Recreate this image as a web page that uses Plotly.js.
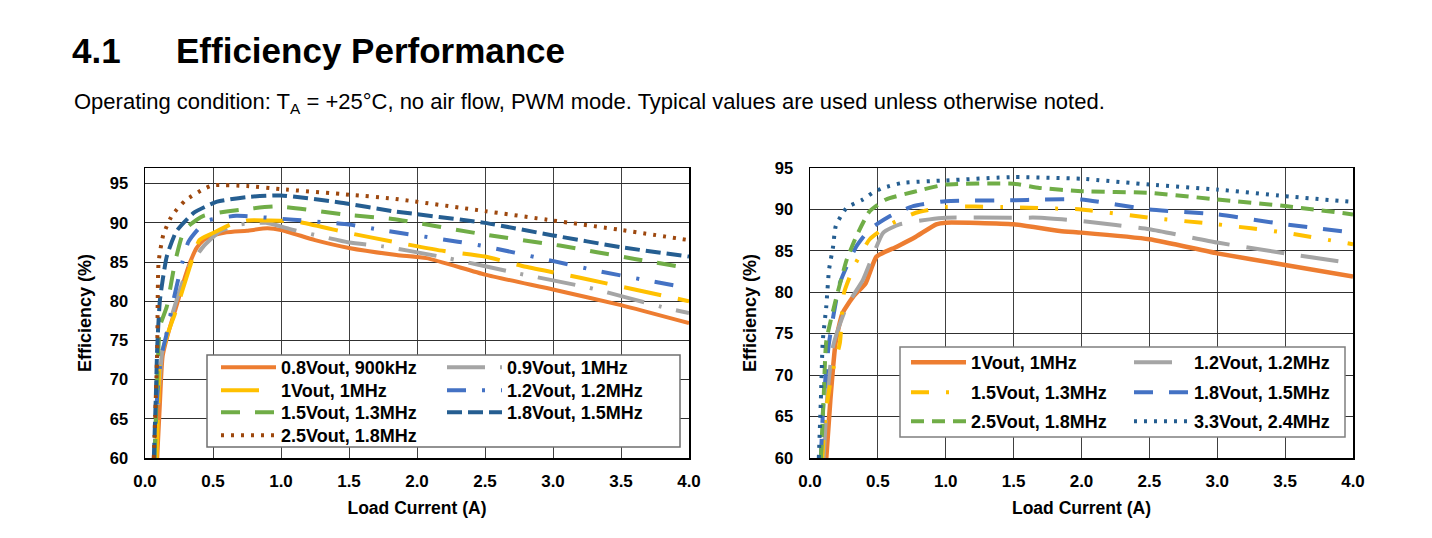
<!DOCTYPE html>
<html>
<head>
<meta charset="utf-8">
<script src="https://cdn.plot.ly/plotly-3.0.1.min.js"></script>
<style>html,body{margin:0;padding:0;background:#fff;}#chart{width:1432px;height:538px;}</style>
</head>
<body>
<div id="chart"></div>
<script>
// ---------- Left chart data ----------
const L_names = ['0.8Vout, 900kHz','0.9Vout, 1MHz','1Vout, 1MHz','1.2Vout, 1.2MHz','1.5Vout, 1.3MHz','1.8Vout, 1.5MHz','2.5Vout, 1.8MHz'];
const L_x_08 = [0.09,0.11,0.13,0.18,0.23,0.28,0.33,0.38,0.43,0.5,0.6,0.75,0.9,1.0,1.25,1.5,1.85,2.07,2.5,3.0,3.5,4.0];
const L_y_08 = [60,67,73,76.5,79.3,82.3,84.9,86.8,87.8,88.4,88.8,89.0,89.3,89.1,87.8,86.8,85.9,85.5,83.4,81.5,79.5,77.2];
const L_x_09 = [0.08,0.1,0.13,0.21,0.31,0.43,0.55,0.7,0.89,1.09,1.5,1.75,2.17,2.73,3.27,3.84,4.0];
const L_y_09 = [60,68,74,78.9,84,87,88.9,89.8,90,89.1,87.5,87,85.7,83.6,81.7,79.1,78.5];
const L_x_10 = [0.085,0.1,0.11,0.17,0.23,0.33,0.4,0.5,0.63,0.75,0.9,1.1,1.5,1.82,2.2,2.5,2.8,3.2,3.6,4.0];
const L_y_10 = [60,68,72.5,76,78.9,84.4,87.8,88.7,89.8,90.3,90.3,90.2,88.7,87.6,86.4,85.7,84.4,83,81.5,80];
const L_x_12 = [0.07,0.09,0.12,0.16,0.21,0.32,0.45,0.67,0.87,1.09,1.5,1.73,2.3,2.5,2.93,3.35,3.74,4.0];
const L_y_12 = [60,68,73,75.9,80.2,87.6,90.2,90.9,90.7,90.4,89.8,89.1,87.6,87,85.4,83.8,82.5,81.7];
const L_x_15 = [0.07,0.09,0.11,0.16,0.22,0.29,0.43,0.71,0.97,1.5,1.82,2.5,3.05,3.6,4.0];
const L_y_15 = [60,70,76.8,79.3,84.9,89.1,90.9,91.7,92.1,91,90.5,88.5,87.1,85.4,84.2];
const L_x_18 = [0.065,0.08,0.09,0.11,0.16,0.23,0.36,0.53,0.75,1.0,1.43,1.82,2.5,3.0,3.5,4.0];
const L_y_18 = [60,68,74.2,80.2,85.7,88.9,91.3,92.7,93.3,93.5,92.6,91.5,90,88.4,86.9,85.7];
const L_x_25 = [0.065,0.08,0.09,0.1,0.135,0.2,0.3,0.43,0.5,0.75,1.0,1.5,1.82,2.5,3.0,3.5,4.0];
const L_y_25 = [60,68,74,85,88.5,91,92.9,94.3,94.8,94.7,94.3,93.6,93.1,91.5,90.3,89.1,87.8];

// ---------- Right chart data ----------
const R_names = ['1Vout, 1MHz','1.2Vout, 1.2MHz','1.5Vout, 1.3MHz','1.8Vout, 1.5MHz','2.5Vout, 1.8MHz','3.3Vout, 2.4MHz'];
const R_x_10 = [0.12,0.15,0.19,0.24,0.32,0.41,0.49,0.64,0.78,0.93,1.0,1.5,1.84,2.0,2.5,3.0,3.5,4.0];
const R_y_10 = [60,67,74.1,77.5,79.5,81.1,84.3,85.5,86.7,88.2,88.4,88.2,87.4,87.2,86.4,84.7,83.3,81.9];
const R_x_12 = [0.1,0.13,0.17,0.27,0.39,0.46,0.54,0.66,0.88,1.0,1.5,1.7,2.0,2.5,3.0,3.5,4.0];
const R_y_12 = [60,68,73.5,78.3,81.5,84.3,87.2,88.2,88.8,89,89,89,88.6,87.6,86,84.7,83.5];
const R_x_15 = [0.09,0.12,0.16,0.22,0.25,0.33,0.44,0.59,0.78,1.0,1.42,1.81,2.0,2.5,3.0,3.5,4.0];
const R_y_15 = [60,66,70,73.9,79.9,83.3,86.4,88.2,89.6,90.3,90.3,90.1,90,89,88.2,87.2,85.8];
const R_x_18 = [0.08,0.1,0.14,0.22,0.34,0.44,0.59,0.76,1.0,1.5,1.71,2.0,2.5,3.0,3.5,4.0];
const R_y_18 = [60,67,73.9,81.1,85.5,87.6,89.2,90.4,91,91.1,91.2,91.2,90,89.4,88.2,87.2];
const R_x_25 = [0.08,0.1,0.12,0.19,0.27,0.34,0.44,0.56,0.76,1.0,1.5,1.69,2.0,2.5,3.0,3.5,4.0];
const R_y_25 = [60,67,74.1,79.1,83.9,86.7,89.8,91.2,92.1,93,93.1,92.6,92.2,92,91.2,90.4,89.4];
const R_x_33 = [0.065,0.08,0.094,0.12,0.14,0.17,0.19,0.27,0.39,0.46,0.54,0.68,1.0,1.5,2.0,2.5,3.0,3.5,4.0];
const R_y_33 = [60,67,74.1,78.3,82.7,85.5,88,90.2,91.2,92,92.6,93.2,93.5,93.9,93.7,93,92.4,91.6,90.9];

const xTicks = [0,0.5,1,1.5,2,2.5,3,3.5,4];
const xTickText = ['0.0','0.5','1.0','1.5','2.0','2.5','3.0','3.5','4.0'];
const yTicks = [60,65,70,75,80,85,90,95];

// ---------- styles ----------
const ORANGE='#ED7D31', YELLOW='#FFC000', GRAY='#A5A5A5', BLUE='#4472C4', GREEN='#70AD47', DBLUE='#255E91', BROWN='#9E480E';
const FONT = 'Liberation Sans, Arial, sans-serif';

function tr(x,y,name,color,dash,w,xa,ya,leg){
  return {x:x,y:y,name:name,type:'scatter',mode:'lines',xaxis:xa,yaxis:ya,legend:leg,
    line:{color:color,width:w,dash:dash,shape:'spline',smoothing:0.5},hoverinfo:'skip'};
}
const data = [
  tr(L_x_08,L_y_08,L_names[0],ORANGE,'solid',4,'x','y','legend'),
  tr(L_x_09,L_y_09,L_names[1],GRAY,'38px,15px,3px,15px',4,'x','y','legend2'),
  tr(L_x_10,L_y_10,L_names[2],YELLOW,'38px,17px',4,'x','y','legend3'),
  tr(L_x_12,L_y_12,L_names[3],BLUE,'19px,16px,3px,16px',4,'x','y','legend4'),
  tr(L_x_15,L_y_15,L_names[4],GREEN,'19px,15px',4,'x','y','legend5'),
  tr(L_x_18,L_y_18,L_names[5],DBLUE,'15px,6px',4,'x','y','legend6'),
  tr(L_x_25,L_y_25,L_names[6],BROWN,'3px,7px',4,'x','y','legend7'),
  tr(R_x_10,R_y_10,R_names[0],ORANGE,'solid',4.5,'x2','y2','legend8'),
  tr(R_x_12,R_y_12,R_names[1],GRAY,'38px,17px',4,'x2','y2','legend9'),
  tr(R_x_15,R_y_15,R_names[2],YELLOW,'18px,17px,3px,17px',4,'x2','y2','legend10'),
  tr(R_x_18,R_y_18,R_names[3],BLUE,'19px,16px',4,'x2','y2','legend11'),
  tr(R_x_25,R_y_25,R_names[4],GREEN,'13px,8px',4,'x2','y2','legend12'),
  tr(R_x_33,R_y_33,R_names[5],DBLUE,'3px,7px',4,'x2','y2','legend13')
];

// pixel helpers for layout placement (margins l=145,r=79,t=168,b=80)
const ML=145, MR=79, MT=168, MB=80, W=1432, H=538;
const PW=W-ML-MR, PH=H-MT-MB;
const px=v=>(v-ML)/PW, py=v=>(H-MB-v)/PH;

function xax(dom, anchor){
  return {domain:dom, anchor:anchor, range:[0,4], tickvals:xTicks, ticktext:xTickText,
    showgrid:true, gridcolor:'#404040', gridwidth:1, showline:true, linecolor:'#000', linewidth:1.5, mirror:true,
    zeroline:false, ticks:'outside', ticklen:7, tickcolor:'rgba(0,0,0,0)',
    tickfont:{family:FONT,size:17,color:'#000',weight:'bold'},
    title:{text:'<b>Load Current (A)</b>', font:{family:FONT,size:17.5,color:'#000'}, standoff:12}};
}
function yax(range, anchor){
  return {domain:[0,1], anchor:anchor, range:range, tickvals:yTicks,
    showgrid:true, gridcolor:'#303030', gridwidth:1, showline:true, linecolor:'#000', linewidth:1.5, mirror:true,
    zeroline:false, ticks:'outside', ticklen:12, tickcolor:'rgba(0,0,0,0)',
    tickfont:{family:FONT,size:16.5,color:'#000',weight:'bold'},
    title:{text:'<b>Efficiency (%)</b>', font:{family:FONT,size:18,color:'#000'}, standoff:13}};
}
// legend entry: text starts ~66px right of x, row centre ~18px below top
function leg(textX,rowY){
  return {x:px(textX-66),y:py(rowY-18),xanchor:'left',yanchor:'top',bgcolor:'rgba(0,0,0,0)',borderwidth:0,
    font:{family:FONT,size:18,color:'#000',weight:'bold'},itemwidth:55,orientation:'v'};
}

const layout = {
  width:W, height:H, paper_bgcolor:'#fff', plot_bgcolor:'#fff',
  margin:{l:ML,r:MR,t:MT,b:MB,pad:0},
  showlegend:true,
  xaxis: xax([0, px(689)], 'y'),
  yaxis: yax([60,97], 'x'),
  xaxis2: xax([px(810), 1], 'y2'),
  yaxis2: yax([60,95], 'x2'),
  legend:  leg(282,367),
  legend2: leg(508,367),
  legend3: leg(282,390),
  legend4: leg(508,390),
  legend5: leg(282,412),
  legend6: leg(508,412),
  legend7: leg(282,435),
  legend8: leg(972,362),
  legend9: leg(1195,362),
  legend10: leg(972,392),
  legend11: leg(1195,392),
  legend12: leg(972,421),
  legend13: leg(1195,421),
  shapes:[
    {type:'rect',xref:'paper',yref:'paper',x0:px(207),x1:px(680),y0:py(447),y1:py(355),
     line:{color:'#6f6f6f',width:1.5},fillcolor:'#fff',layer:'above'},
    {type:'rect',xref:'paper',yref:'paper',x0:px(900),x1:px(1345),y0:py(437),y1:py(347),
     line:{color:'#7f7f7f',width:1.5},fillcolor:'#fff',layer:'above'}
  ],
  annotations:[
    {xref:'paper',yref:'paper',x:px(70),y:py(50),xanchor:'left',yanchor:'middle',showarrow:false,
     text:'<b>4.1</b>',font:{family:FONT,size:35,color:'#000'}},
    {xref:'paper',yref:'paper',x:px(174),y:py(50),xanchor:'left',yanchor:'middle',showarrow:false,
     text:'<b>Efficiency Performance</b>',font:{family:FONT,size:35,color:'#000'}},
    {xref:'paper',yref:'paper',x:px(72),y:py(103),xanchor:'left',yanchor:'middle',showarrow:false,
     text:'Operating condition: T<sub>A</sub> = +25°C, no air flow, PWM mode. Typical values are used unless otherwise noted.',
     font:{family:FONT,size:22,color:'#000'}}
  ]
};

Plotly.newPlot('chart', data, layout, {staticPlot:true, displayModeBar:false});
</script>
</body>
</html>
